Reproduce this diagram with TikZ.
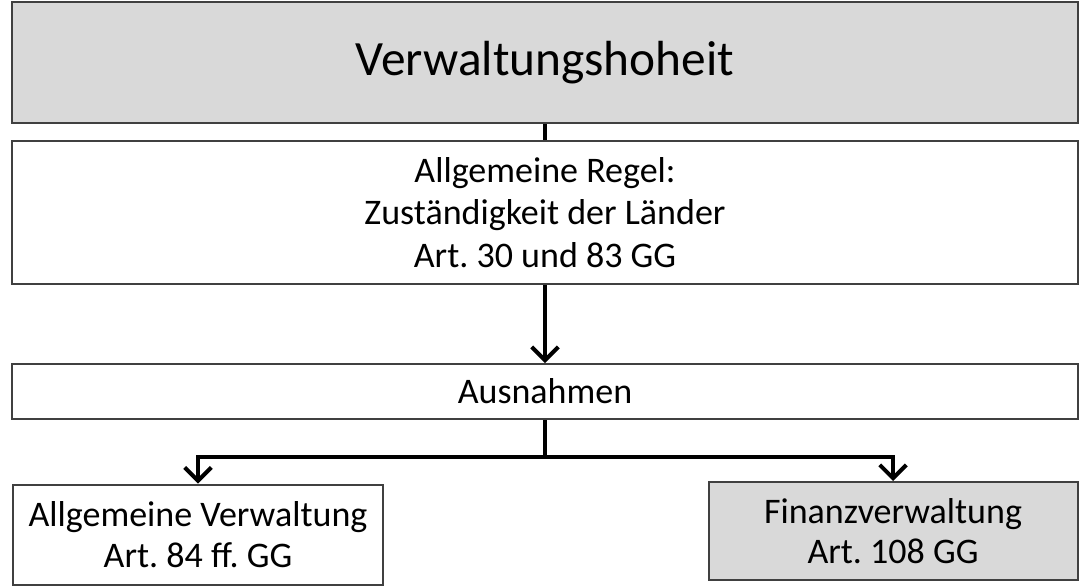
\documentclass[tikz,border=0pt]{standalone}
\usepackage{fontspec}
\setmainfont{Carlito}
\usetikzlibrary{arrows.meta}

\definecolor{boxgray}{RGB}{217,217,217}
\definecolor{framegray}{RGB}{64,64,64}

\frenchspacing
\tikzset{every picture/.style={line width=0.75pt}}
\tikzset{
	pbox/.style={draw=framegray, line width=1.5pt, fill=white, inner sep=0pt, align=center, font=\fontsize{27}{32}\selectfont},
	conn/.style={line width=3pt, black},
	connarrow/.style={conn, -{Straight Barb[length=10pt,width=20pt]}}
}

\begin{document}
\begin{tikzpicture}[x=0.75pt,y=0.75pt,yscale=-1,xscale=1]
	\useasboundingbox (0,0) rectangle (1080,587);
	
	%Shape: Rectangle [id:hoheit] 
	\node [pbox, fill=boxgray, minimum width=1066*0.75pt, minimum height=121*0.75pt, font=\fontsize{37}{43}\selectfont] (hoheit) at (545,62.5) {Verwaltungshoheit};
	%Shape: Rectangle [id:regel] 
	\node [pbox, minimum width=1066*0.75pt, minimum height=143*0.75pt] (regel) at (545,212.5) {Allgemeine Regel:\\Zuständigkeit der Länder\\Art. 30 und 83 GG};
	%Shape: Rectangle [id:ausnahmen] 
	\node [pbox, minimum width=1066*0.75pt, minimum height=55*0.75pt] (ausnahmen) at (545,391.5) {Ausnahmen};
	%Shape: Rectangle [id:allg] 
	\node [pbox, minimum width=370*0.75pt, minimum height=100*0.75pt, font=\fontsize{27}{30.5}\selectfont] (allg) at (198,534.5) {Allgemeine Verwaltung\\Art. 84 ff. GG};
	%Shape: Rectangle [id:finanz] 
	\node [pbox, fill=boxgray, minimum width=369*0.75pt, minimum height=98*0.75pt, font=\fontsize{27}{30.5}\selectfont] (finanz) at (893,531) {Finanzverwaltung\\Art. 108 GG};
	
	%Straight Lines [id:oben] 
	\draw [conn] (hoheit.south) -- (regel.north) ;
	%Straight Lines [id:mitte] 
	\draw [connarrow] (regel.south) -- (ausnahmen.north) ;
	%Straight Lines [id:split] 
	\coordinate (split) at (545,457);
	\draw [conn] (ausnahmen.south) -- (split) ;
	\draw [connarrow] (split) -| (allg.north) ;
	\draw [connarrow] (split) -| (finanz.north) ;
	
\end{tikzpicture}
\end{document}
